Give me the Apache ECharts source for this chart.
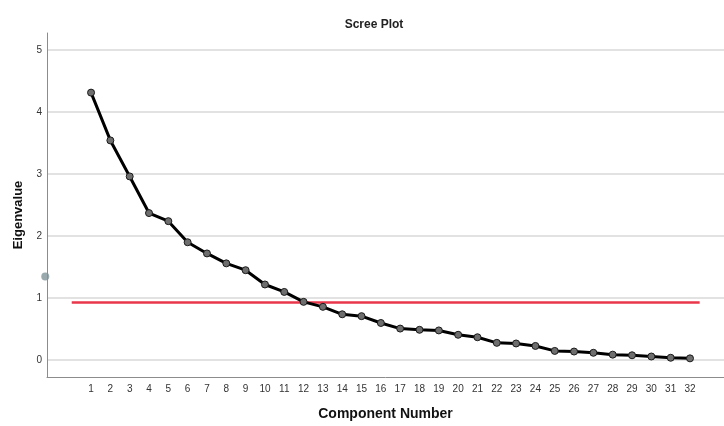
<!DOCTYPE html>
<html>
<head>
<meta charset="utf-8">
<script src="https://cdn.jsdelivr.net/npm/echarts@6/dist/echarts.min.js"></script>
<style>html,body{margin:0;padding:0;background:#fff}#c{width:724px;height:426px}</style>
</head>
<body>
<div id="c"></div>
<script>
const components = [1,2,3,4,5,6,7,8,9,10,11,12,13,14,15,16,17,18,19,20,21,22,23,24,25,26,27,28,29,30,31,32];
const eigenvalues = [4.31,3.54,2.96,2.37,2.24,1.90,1.72,1.56,1.45,1.22,1.10,0.94,0.86,0.74,0.71,0.60,0.51,0.49,0.48,0.41,0.37,0.28,0.27,0.23,0.15,0.14,0.12,0.09,0.08,0.06,0.04,0.03];
const yTicks = [0,1,2,3,4,5];
const refLineX = [0, 32.5];
const refLineY = [0.93, 0.93];
const strayPoint = [-1.37, 1.35];

const chart = echarts.init(document.getElementById('c'), null, {renderer:'canvas'});
const FONT = 'Liberation Sans, Arial, sans-serif';
chart.setOption({
  animation: false,
  textStyle: {fontFamily: FONT},
  title: {
    text: 'Scree Plot', left: 369, top: 14, textAlign: 'center',
    textStyle: {fontFamily: FONT, fontSize: 12, fontWeight: 'bold', color: '#222'}
  },
  grid: {left: 47, right: 0, top: 33, bottom: 44, containLabel: false},
  xAxis: {
    type: 'value', min: -1.28, max: 33.76,
    axisLine: {show: true, onZero: false, lineStyle: {color: '#8c8c8c', width: 1}},
    axisTick: {show: false, customValues: components},
    axisLabel: {customValues: components, color: '#333', fontSize: 10, margin: 7, fontFamily: FONT},
    splitLine: {show: false},
    name: 'Component Number', nameLocation: 'middle', nameGap: 30,
    nameTextStyle: {fontFamily: FONT, fontSize: 14, fontWeight: 'bold', color: '#111'}
  },
  yAxis: {
    type: 'value', min: -0.27, max: 5.27,
    axisLine: {show: true, onZero: false, lineStyle: {color: '#8c8c8c', width: 1}},
    axisTick: {show: false, customValues: yTicks},
    axisLabel: {customValues: yTicks, color: '#333', fontSize: 10, margin: 5, fontFamily: FONT},
    splitLine: {show: true, lineStyle: {color: '#d9d9d9', width: 1.5}},
    name: 'Eigenvalue', nameLocation: 'middle', nameGap: 22, nameRotate: 90,
    nameTextStyle: {fontFamily: FONT, fontSize: 13, fontWeight: 'bold', color: '#111', padding: [0,0,0,-20]}
  },
  series: [
    {
      type: 'line', z: 2,
      data: refLineX.map((x,i) => [x, refLineY[i]]),
      showSymbol: false, symbol: 'none',
      lineStyle: {color: '#e8364a', width: 2.5},
      silent: true
    },
    {
      type: 'line', z: 3,
      data: components.map((c,i) => [c, eigenvalues[i]]),
      symbol: 'circle', symbolSize: 7,
      itemStyle: {color: '#6e6e6e', borderColor: '#1a1a1a', borderWidth: 1},
      lineStyle: {color: '#000', width: 3}
    },
    {
      type: 'scatter', z: 4, clip: false,
      data: [strayPoint],
      symbolSize: 8,
      itemStyle: {color: '#7f949a'}
    }
  ]
});
</script>
</body>
</html>
